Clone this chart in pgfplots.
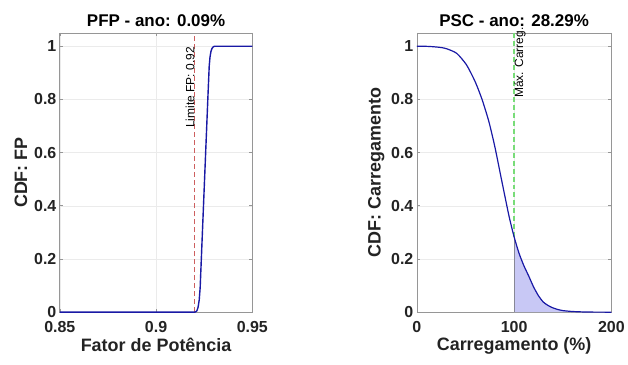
\documentclass[border=0pt]{standalone}
\usepackage{fontspec}
\setmainfont{Liberation Sans}
\usepackage{pgfplots}
\pgfplotsset{compat=1.18}
\definecolor{cblue}{RGB}{25,25,165}
\definecolor{cred}{RGB}{205,95,95}
\definecolor{cgreen}{RGB}{120,220,120}
\definecolor{cfill}{RGB}{200,200,245}
\definecolor{cedge}{RGB}{135,135,150}
\definecolor{cbox}{RGB}{150,150,150}
\definecolor{ctext}{RGB}{35,35,35}
\pgfplotsset{
  myax/.style={
    scale only axis, anchor=south west,
    width=193pt, height=280pt,
    ymin=0, ymax=1.05,
    ytick={0,0.2,0.4,0.6,0.8,1},
    grid=major, major grid style={draw=black!8, line width=0.5pt},
    axis line style={draw=cbox, line width=0.7pt},
    tick style={draw=cbox, line width=0.6pt},
    tick align=inside, major tick length=3pt,
    /pgf/number format/assume math mode=true,
    ticklabel style={font=\bfseries\fontsize{16pt}{18pt}\selectfont, text=ctext},
    xticklabel style={yshift=-6pt},
    label style={font=\bfseries\fontsize{18pt}{20pt}\selectfont, text=ctext},
    title style={font=\bfseries\fontsize{17pt}{19pt}\selectfont, text=black, yshift=-3pt},
    xlabel style={yshift=2pt},
    clip=false,
  }
}
\begin{document}
\begin{tikzpicture}[x=1pt,y=1pt]
\path (0,0) rectangle (628,365);
\begin{axis}[myax, at={(60pt,52pt)},
  xmin=0.85, xmax=0.95, xtick={0.85,0.9,0.95},
  xticklabels={0.85,0.9,0.95},
  title={PFP - ano: 0.09\%},
  xlabel={Fator de Potência}, ylabel={CDF: FP}]
\addplot[cred, line width=1.2pt, dash pattern=on 5pt off 3pt] coordinates {(0.92,0) (0.92,1.05)};
\addplot[cblue, line width=1.4pt] coordinates {
(0.85,0) (0.9200,0) (0.9205,0.001) (0.9212,0.005) (0.9218,0.018) (0.9224,0.045)
(0.9229,0.092) (0.9240,0.288) (0.9250,0.466) (0.9260,0.644) (0.9270,0.822)
(0.9276,0.925) (0.9280,0.958) (0.9285,0.980) (0.9290,0.991) (0.9295,0.996) (0.9300,0.999) (0.9305,1.0) (0.95,1.0)};
\node[rotate=90, anchor=south west, inner sep=0pt, xshift=-2pt, font=\fontsize{12pt}{14pt}\selectfont, text=black] at (axis cs:0.92,0.70) {Limite FP: 0.92};
\end{axis}
\begin{axis}[myax, at={(418pt,52pt)}, width=195pt,
  xmin=0, xmax=200, xtick={0,100,200},
  title={PSC - ano: 28.29\%},
  xlabel={Carregamento (\%)}, ylabel={CDF: Carregamento}]
\addplot[cgreen, line width=1.6pt, dash pattern=on 5pt off 3pt] coordinates {(100,1.05) (100,0.283)};
\addplot[fill=cfill, draw=none] coordinates {
(100,0) (100,0.283) (105,0.222) (110,0.175) (115,0.136) (120,0.095) (125,0.062) (130,0.038) (135,0.025)
(140,0.016) (145,0.010) (150,0.006) (155,0.004) (160,0.0025) (170,0.001) (180,0.0003) (200,0) (100,0)} -- cycle;
\addplot[cedge, line width=1pt] coordinates {(100,0) (100,0.283)};
\addplot[cblue, line width=1.2pt, smooth, tension=0.4] coordinates {
(0,1.0) (10,0.9995) (17,0.998) (25,0.995) (31,0.99) (41,0.973) (51,0.93) (60,0.866) (67,0.80)
(74,0.717) (80,0.625) (85,0.535) (90,0.445) (95,0.357) (100,0.283) (105,0.222) (110,0.175)
(115,0.136) (120,0.095) (125,0.062) (130,0.038) (135,0.025) (140,0.016) (145,0.010) (150,0.006)
(155,0.004) (160,0.0025) (170,0.001) (180,0.0003) (190,0.0001) (200,0)};
\node[rotate=90, anchor=north west, inner sep=0pt, xshift=1.5pt, font=\fontsize{12pt}{14pt}\selectfont, text=black] at (axis cs:100,0.80) {Máx. Carreg.};
\end{axis}
\end{tikzpicture}
\end{document}
